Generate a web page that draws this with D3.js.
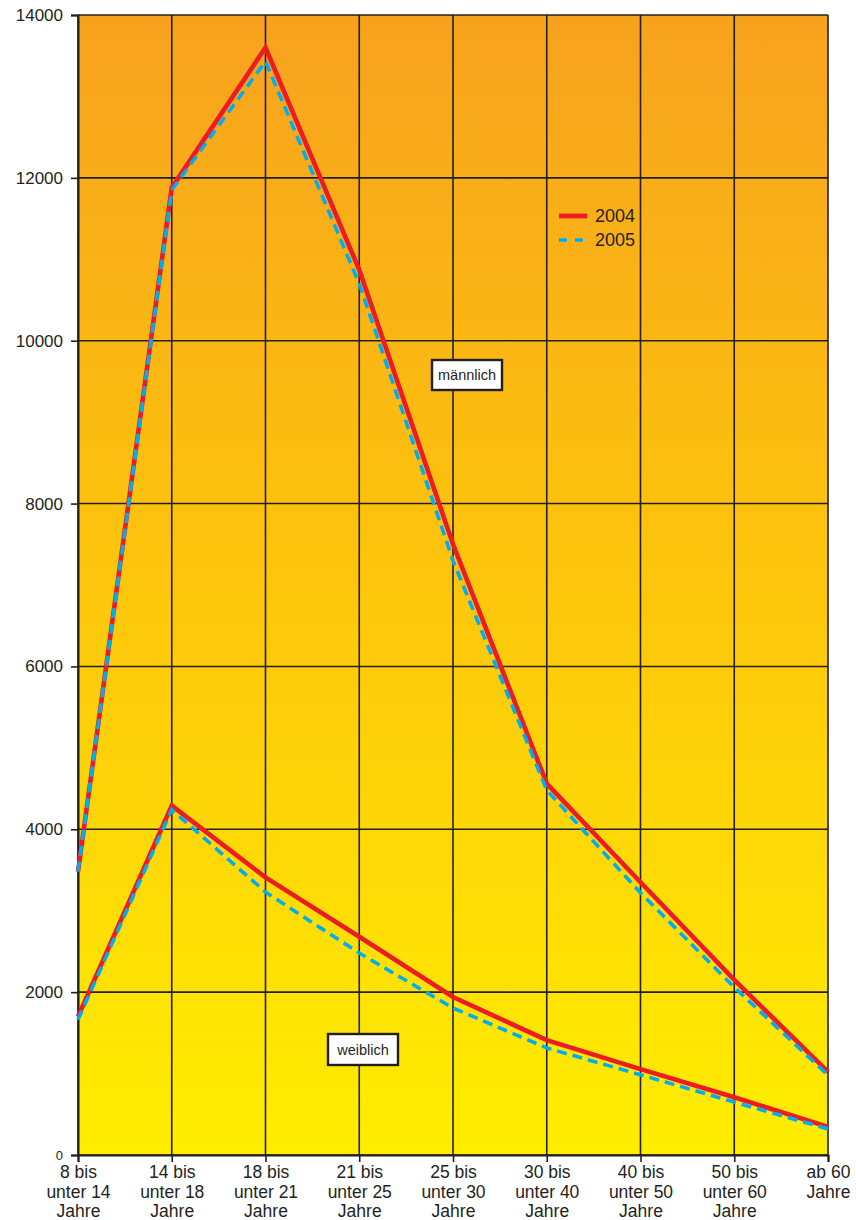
<!DOCTYPE html>
<html><head><meta charset="utf-8">
<script src="https://cdn.jsdelivr.net/npm/d3@7"></script>
<style>
html,body{margin:0;padding:0;background:#fff;}
svg{display:block;font-family:"Liberation Sans",Arial,Helvetica,sans-serif;}
</style></head>
<body>
<svg id="chart" width="856" height="1220"></svg>
<script>
const categories = [
  ["8 bis","unter 14","Jahre"],
  ["14 bis","unter 18","Jahre"],
  ["18 bis","unter 21","Jahre"],
  ["21 bis","unter 25","Jahre"],
  ["25 bis","unter 30","Jahre"],
  ["30 bis","unter 40","Jahre"],
  ["40 bis","unter 50","Jahre"],
  ["50 bis","unter 60","Jahre"],
  ["ab 60","Jahre"]
];
const yTicks = [0, 2000, 4000, 6000, 8000, 10000, 12000, 14000];
const male2004   = [3480, 11880, 13600, 10870, 7500, 4560, 3350, 2150, 1020];
const male2005   = [3480, 11850, 13430, 10700, 7300, 4480, 3220, 2060, 980];
const female2004 = [1700, 4290, 3410, 2680, 1940, 1410, 1055, 710, 345];
const female2005 = [1660, 4240, 3230, 2480, 1805, 1315, 985, 650, 320];
const legendLabels = ["2004", "2005"];
const groupLabels = ["männlich", "weiblich"];

const svg = d3.select("#chart");
const L = 78, R = 828, T = 15, B = 1155;
const ink = "#231f20";
const red = "#ED1C24", blue = "#00AEEF";
const FONT = "Liberation Sans, Arial, sans-serif";

const x = d3.scalePoint().domain(d3.range(categories.length)).range([L, R]).padding(0);
const y = d3.scaleLinear().domain([0, 14000]).range([B, T]);

// background gradient
const defs = svg.append("defs");
const grad = defs.append("linearGradient").attr("id","bg").attr("x1",0).attr("y1",0).attr("x2",0).attr("y2",1);
grad.append("stop").attr("offset","0%").attr("stop-color","#F7A21E");
grad.append("stop").attr("offset","50%").attr("stop-color","#FDC60C");
grad.append("stop").attr("offset","100%").attr("stop-color","#FFEE00");
svg.append("rect").attr("x",L).attr("y",T).attr("width",R-L).attr("height",B-T).attr("fill","url(#bg)");

// grid
const grid = svg.append("g").attr("stroke",ink).attr("stroke-width",1.6);
grid.selectAll("line.h").data(yTicks).join("line").attr("class","h")
  .attr("x1",L).attr("x2",R).attr("y1",d=>y(d)).attr("y2",d=>y(d));
grid.selectAll("line.v").data(d3.range(categories.length)).join("line").attr("class","v")
  .attr("x1",d=>x(d)).attr("x2",d=>x(d)).attr("y1",T).attr("y2",B);

// y axis
const yAxis = svg.append("g").attr("transform",`translate(${L},0)`)
  .call(d3.axisLeft(y).tickValues(yTicks).tickFormat(d3.format("d")).tickSize(7).tickPadding(8));
yAxis.select(".domain").attr("stroke",ink).attr("stroke-width",2);
yAxis.selectAll(".tick line").attr("stroke",ink).attr("stroke-width",1.6);
yAxis.selectAll(".tick text").attr("fill",ink).attr("font-size",d=>d===0?13:17)
  .attr("font-family",FONT);

// x axis
const xAxis = svg.append("g").attr("transform",`translate(0,${B})`)
  .call(d3.axisBottom(x).tickSize(7).tickFormat(""));
xAxis.select(".domain").attr("stroke",ink).attr("stroke-width",2);
xAxis.selectAll(".tick line").attr("stroke",ink).attr("stroke-width",1.6);
xAxis.selectAll(".tick").each(function(d){
  const t = d3.select(this).append("text").attr("fill",ink).attr("font-size",17.5)
    .attr("text-anchor","middle").attr("font-family",FONT);
  categories[d].forEach((s,i)=>{
    t.append("tspan").attr("x",0).attr("y",23 + i*19.5).text(s);
  });
});

// lines
const line = d3.line().x((d,i)=>x(i)).y(d=>y(d));
const series = [
  {v: male2004, c: red, w: 4.6, dash: null},
  {v: female2004, c: red, w: 4.6, dash: null},
  {v: male2005, c: blue, w: 3.6, dash: "10,6"},
  {v: female2005, c: blue, w: 3.6, dash: "10,6"}
];
svg.append("g").selectAll("path").data(series).join("path")
  .attr("d",d=>line(d.v)).attr("fill","none").attr("stroke",d=>d.c)
  .attr("stroke-width",d=>d.w).attr("stroke-dasharray",d=>d.dash)
  .attr("stroke-linejoin","miter");

// legend
const lg = svg.append("g");
[{c:red,w:4.8,dash:null},{c:blue,w:3.6,dash:"8,8"}].forEach((s,i)=>{
  const yy = 216 + i*24;
  lg.append("line").attr("x1",559).attr("x2",587).attr("y1",yy).attr("y2",yy)
    .attr("stroke",s.c).attr("stroke-width",s.w).attr("stroke-dasharray",s.dash);
  lg.append("text").attr("x",595).attr("y",yy+6).attr("font-size",18).attr("fill",ink)
    .attr("font-family",FONT).text(legendLabels[i]);
});

// group labels
const boxes = [{t: groupLabels[0], x:432, y:360, w:70, h:30},{t: groupLabels[1], x:328, y:1034, w:70, h:31}];
boxes.forEach(b=>{
  svg.append("rect").attr("x",b.x).attr("y",b.y).attr("width",b.w).attr("height",b.h)
    .attr("fill","#fff").attr("stroke",ink).attr("stroke-width",2.4);
  svg.append("text").attr("x",b.x+b.w/2).attr("y",b.y+b.h/2+5).attr("text-anchor","middle")
    .attr("font-size",14.5).attr("fill",ink).attr("font-family",FONT).text(b.t);
});
</script>
</body></html>
